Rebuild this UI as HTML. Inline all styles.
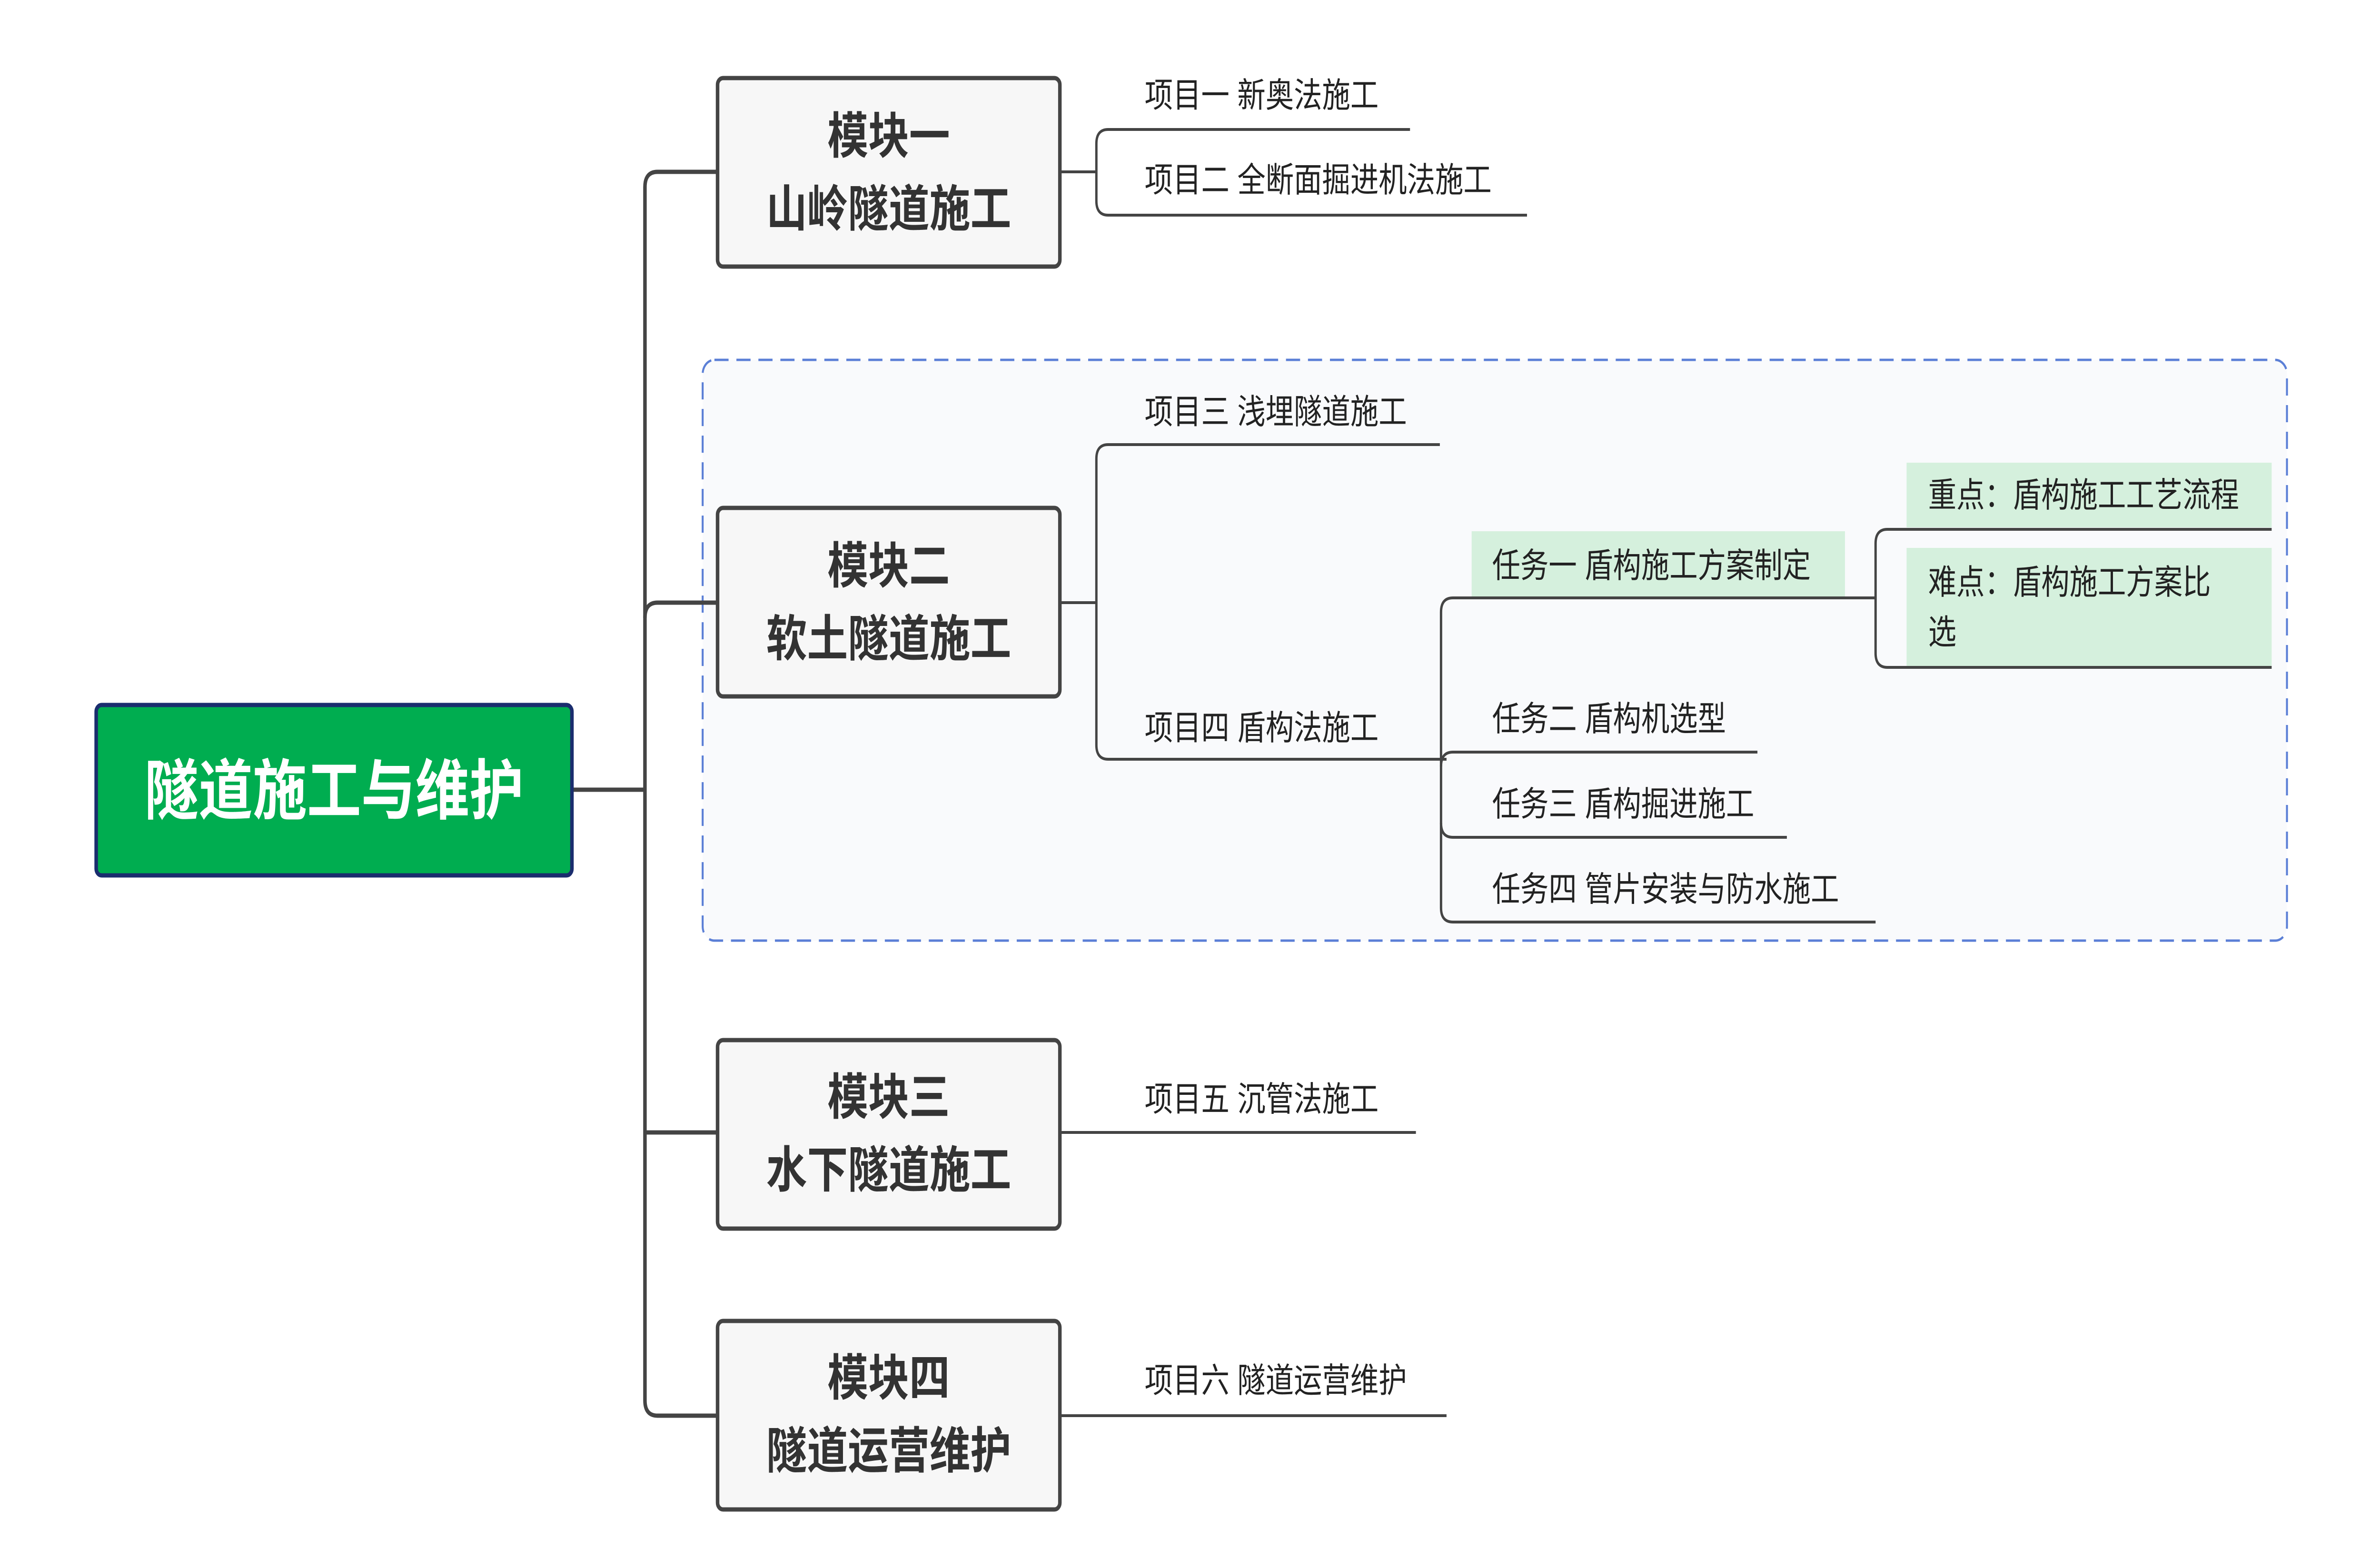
<!DOCTYPE html>
<html><head><meta charset="utf-8"><style>
html,body{margin:0;padding:0;background:#fff;overflow:hidden;width:100%;height:100%;}
svg{display:block;width:100vw;height:100vh;}
text{font-family:"Liberation Sans","Noto Sans CJK SC",sans-serif;}
.t{font-size:72px;fill:#222;dominant-baseline:central;}
.m{font-size:104px;font-weight:bold;fill:#333;text-anchor:middle;dominant-baseline:central;}
.l{fill:none;stroke:#444;stroke-width:6;}
</style></head><body>
<svg viewBox="0 0 6063 3294" preserveAspectRatio="none" xmlns="http://www.w3.org/2000/svg">
<rect x="1790" y="756" width="4036" height="1220" rx="30" fill="#f9fafc" stroke="#5b7fd6" stroke-width="5" stroke-dasharray="36,20"/>
<path class="l" style="stroke-width:9" d="M1459 1659 H1643"/>
<path class="l" style="stroke-width:9" d="M1824 361 H1675 Q1643 361 1643 393 V2942 Q1643 2974 1675 2974 H1824"/>
<path class="l" style="stroke-width:9" d="M1824 1266 H1675 Q1643 1266 1643 1298"/>
<path class="l" style="stroke-width:9" d="M1643 2379 H1824"/>
<path class="l" d="M2704 361 H2793"/>
<path class="l" d="M3592 272 H2823 Q2793 272 2793 302 V422 Q2793 452 2823 452 H3890"/>
<path class="l" d="M2704 1266 H2793"/>
<path class="l" d="M3668 934 H2823 Q2793 934 2793 964 V1565 Q2793 1595 2823 1595 H3685"/>
<path class="l" d="M4778 1256 H3701 Q3671 1256 3671 1286 V1907 Q3671 1937 3701 1937 H4778"/>
<path class="l" d="M4477 1580 H3701 Q3671 1580 3671 1610"/>
<path class="l" d="M4552 1759 H3701 Q3671 1759 3671 1729"/>
<path class="l" d="M5787 1112 H4808 Q4778 1112 4778 1142 V1372 Q4778 1402 4808 1402 H5787"/>
<path class="l" d="M2704 2379 H3607"/>
<path class="l" d="M2704 2974 H3685"/>
<rect x="3749" y="1116" width="951" height="137" fill="#d5f0dd"/>
<rect x="4857" y="972" width="930" height="136" fill="#d5f0dd"/>
<rect x="4857" y="1151" width="930" height="248" fill="#d5f0dd"/>
<rect x="245" y="1481" width="1212" height="358" rx="14" fill="#00ad50" stroke="#1a2d6e" stroke-width="9"/>
<text x="851" y="1662" style="font-size:138px;font-weight:bold;fill:#fff;text-anchor:middle;dominant-baseline:central">隧道施工与维护</text>
<g fill="#f7f7f7" stroke="#444" stroke-width="9">
<rect x="1828" y="164" width="872" height="396" rx="14"/>
<rect x="1828" y="1067" width="872" height="396" rx="14"/>
<rect x="1828" y="2185" width="872" height="396" rx="14"/>
<rect x="1828" y="2775" width="872" height="396" rx="14"/>
</g>
<text class="m" x="2264" y="287">模块一</text><text class="m" x="2264" y="440">山岭隧道施工</text>
<text class="m" x="2264" y="1190">模块二</text><text class="m" x="2264" y="1343">软土隧道施工</text>
<text class="m" x="2264" y="2306">模块三</text><text class="m" x="2264" y="2459">水下隧道施工</text>
<text class="m" x="2264" y="2896">模块四</text><text class="m" x="2264" y="3049">隧道运营维护</text>
<text class="t" x="2916" y="200">项目一 新奥法施工</text>
<text class="t" x="2916" y="378">项目二 全断面掘进机法施工</text>
<text class="t" x="2916" y="865">项目三 浅埋隧道施工</text>
<text class="t" x="2916" y="1529">项目四 盾构法施工</text>
<text class="t" x="3801" y="1188">任务一 盾构施工方案制定</text>
<text class="t" x="3801" y="1510">任务二 盾构机选型</text>
<text class="t" x="3801" y="1689">任务三 盾构掘进施工</text>
<text class="t" x="3801" y="1868">任务四 管片安装与防水施工</text>
<text class="t" x="4912" y="1040">重点：盾构施工工艺流程</text>
<text class="t" x="4912" y="1223">难点：盾构施工方案比</text>
<text class="t" x="4912" y="1328">选</text>
<text class="t" x="2916" y="2309">项目五 沉管法施工</text>
<text class="t" x="2916" y="2900">项目六 隧道运营维护</text>
</svg>
</body></html>
